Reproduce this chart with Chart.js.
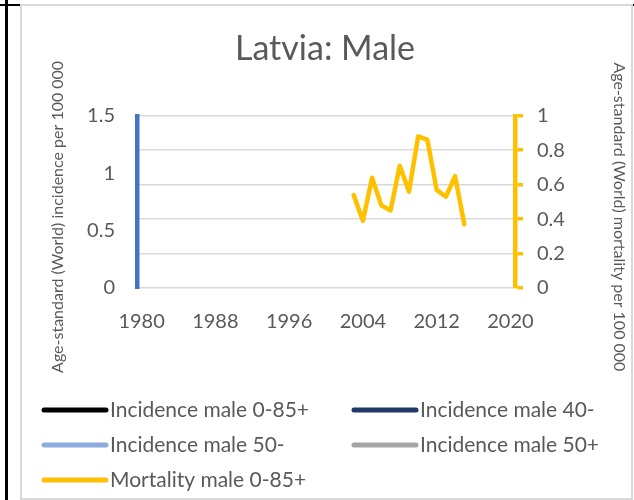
<!DOCTYPE html>
<html>
<head>
<meta charset="utf-8">
<script src="https://cdn.jsdelivr.net/npm/chart.js@4/dist/chart.umd.min.js"></script>
<style>
  html, body { margin: 0; padding: 0; background: #fff; }
  body { width: 634px; height: 500px; position: relative; overflow: hidden; }
  #blackV { position: absolute; left: 5px; top: 0; width: 3px; height: 500px; background: #000; }
  #blackH { position: absolute; left: 0; top: 4px; width: 634px; height: 2px; background: #000; }
  #frame { position: absolute; left: 20px; top: 4px; width: 609px; height: 492px; border: 2px solid #d9d9d9; background: #fff; }
  #wrap { position: absolute; left: 0; top: 0; width: 634px; height: 500px; }
</style>
</head>
<body>
<div id="blackH"></div>
<div id="blackV"></div>
<div id="frame"></div>
<div id="wrap"><canvas id="c" width="634" height="500"></canvas></div>
<script>
// ---- data ----
const chartTitle = 'Latvia: Male';
const years = ['1980','1981','1982','1983','1984','1985','1986','1987','1988','1989',
  '1990','1991','1992','1993','1994','1995','1996','1997','1998','1999',
  '2000','2001','2002','2003','2004','2005','2006','2007','2008','2009',
  '2010','2011','2012','2013','2014','2015','2016','2017','2018','2019','2020'];
const xTickLabels = ['1980','1988','1996','2004','2012','2020'];
const leftTicks = [0, 0.5, 1, 1.5];
const rightTicks = [0, 0.2, 0.4, 0.6, 0.8, 1];
const incidenceAll = [];
const incidence40m = [];
const incidence50m = [];
const incidence50p = [];
const mortalityYears = ['2003','2004','2005','2006','2007','2008','2009','2010','2011','2012','2013','2014','2015'];
const mortalityValues = [0.54, 0.39, 0.64, 0.48, 0.45, 0.71, 0.56, 0.88, 0.86, 0.57, 0.53, 0.65, 0.37];
const seriesNames = ['Incidence male 0-85+','Incidence male 40-','Incidence male 50-','Incidence male 50+','Mortality male 0-85+'];
const leftTitle = 'Age-standard (World) incidence per 100 000';
const rightTitle = 'Age-standard (World) mortality per 100 000';

// ---- styles ----
const FONT = 'Lato, "Open Sans", sans-serif';
const TXT = '#595959';
const colors = ['#000000', '#203864', '#8FAADC', '#A5A5A5', '#FFC000'];

const pts = (xs, ys) => xs.map((x, i) => ({ x: x, y: ys[i] }));

const axisTitlePlugin = {
  id: 'axisTitles',
  afterDraw(chart) {
    const ctx = chart.ctx;
    const ca = chart.chartArea;
    const cy = (ca.top + ca.bottom) / 2 + 15;
    ctx.save();
    ctx.fillStyle = TXT;
    ctx.font = '16px ' + FONT;
    ctx.textAlign = 'center';
    ctx.textBaseline = 'middle';
    ctx.save();
    ctx.translate(58, cy);
    ctx.rotate(-Math.PI / 2);
    ctx.fillText(leftTitle, 0, 0);
    ctx.restore();
    ctx.save();
    ctx.translate(619, cy);
    ctx.rotate(Math.PI / 2);
    ctx.fillText(rightTitle, 0, 0);
    ctx.restore();
    ctx.restore();
  }
};

const legendPlugin = {
  id: 'gridLegend',
  afterDraw(chart) {
    const ctx = chart.ctx;
    const colX = [42, 352];
    const rowY = [410, 445, 480];
    ctx.save();
    ctx.font = '21px ' + FONT;
    ctx.textBaseline = 'middle';
    ctx.textAlign = 'left';
    chart.data.datasets.forEach((ds, i) => {
      const x = colX[i % 2];
      const y = rowY[Math.floor(i / 2)];
      ctx.strokeStyle = ds.borderColor;
      ctx.lineWidth = 5;
      ctx.lineCap = 'round';
      ctx.beginPath();
      ctx.moveTo(x + 2, y);
      ctx.lineTo(x + 64, y);
      ctx.stroke();
      ctx.fillStyle = TXT;
      ctx.fillText(ds.label, x + 68, y);
    });
    ctx.restore();
  }
};

const mk = (i, data, axis) => ({
  label: seriesNames[i],
  data: data,
  borderColor: colors[i],
  backgroundColor: colors[i],
  borderWidth: 4.5,
  pointRadius: 0,
  tension: 0,
  borderJoinStyle: 'round',
  borderCapStyle: 'round',
  yAxisID: axis,
  spanGaps: false
});

const numLabel = (v) => String(v);

new Chart(document.getElementById('c'), {
  type: 'line',
  data: {
    labels: years,
    datasets: [
      mk(0, incidenceAll, 'y'),
      mk(1, incidence40m, 'y'),
      mk(2, incidence50m, 'y'),
      mk(3, incidence50p, 'y'),
      mk(4, pts(mortalityYears, mortalityValues), 'y1')
    ]
  },
  options: {
    responsive: false,
    animation: false,
    devicePixelRatio: 1,
    layout: { padding: { left: 16, right: 0, top: 8, bottom: 162 } },
    plugins: {
      legend: { display: false },
      tooltip: { enabled: false },
      title: {
        display: true,
        text: chartTitle,
        color: TXT,
        font: { family: FONT, size: 34, weight: 'normal' },
        padding: { top: 21, bottom: 46 }
      }
    },
    scales: {
      x: {
        type: 'category',
        offset: true,
        grid: { display: false },
        border: { display: false },
        ticks: {
          autoSkip: false,
          maxRotation: 0,
          minRotation: 0,
          padding: 14,
          color: TXT,
          font: { family: FONT, size: 20 },
          callback: function (v, i) {
            const l = this.getLabelForValue(v);
            return xTickLabels.includes(l) ? l : '';
          }
        },
        afterFit: (s) => { s.height = 50; }
      },
      y: {
        position: 'left',
        min: leftTicks[0],
        max: leftTicks[leftTicks.length - 1],
        afterBuildTicks: (s) => { s.ticks = leftTicks.map(v => ({ value: v })); },
        grid: { drawOnChartArea: false, drawTicks: false },
        border: { color: '#4472C4', width: 4.5 },
        ticks: { padding: 22, color: TXT, font: { family: FONT, size: 20 }, callback: numLabel },
        afterFit: (s) => { s.width = 121; }
      },
      y1: {
        position: 'right',
        min: rightTicks[0],
        max: rightTicks[rightTicks.length - 1],
        afterBuildTicks: (s) => { s.ticks = rightTicks.map(v => ({ value: v })); },
        grid: { color: '#D9D9D9', lineWidth: 1.5, tickColor: '#FFC000', tickLength: 8, tickWidth: 3.5 },
        border: { color: '#FFC000', width: 4.5 },
        ticks: { padding: 14, color: TXT, font: { family: FONT, size: 20 }, callback: numLabel },
        afterFit: (s) => { s.width = 119; }
      }
    }
  },
  plugins: [axisTitlePlugin, legendPlugin]
});
</script>
</body>
</html>
